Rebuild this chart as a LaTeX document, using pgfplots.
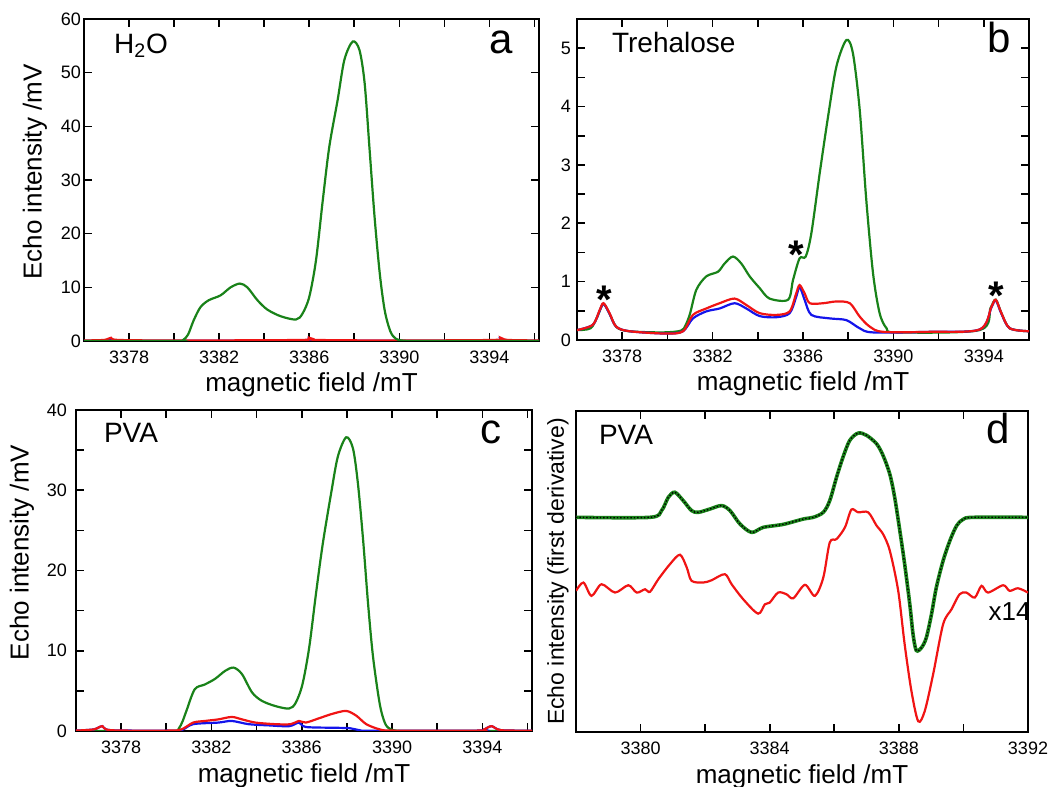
\documentclass[border=0pt]{standalone}
\usepackage{fontspec}
\setmainfont{Liberation Sans}
\usepackage{pgfplots}
\pgfplotsset{compat=1.18}

\definecolor{specgreen}{RGB}{25,130,25}
\definecolor{specred}{RGB}{240,20,20}
\definecolor{specblue}{RGB}{20,20,235}

\pgfplotsset{
  panel/.style={
    scale only axis,
    axis line style={line width=0.8pt},
    tick align=inside,
    major tick length=4pt, minor tick length=4pt,
    major tick style={black, line width=0.8pt},
    minor tick style={black, line width=0.8pt},
    tick label style={font=\fontsize{9}{10}\selectfont},
    /pgf/number format/assume math mode=true,
    /pgf/number format/1000 sep={},
    scaled ticks=false,
    xlabel={magnetic field /mT},
    xlabel style={font=\fontsize{13}{14}\selectfont,
      at={([yshift=-25.5pt]axis description cs:0.5,0)}, anchor=base},
    ylabel style={font=\fontsize{13}{14}\selectfont, anchor=center},
    xticklabel style={yshift=-1.5pt},
  },
  spec/.style={smooth, line width=1.1pt, no markers},
}
\tikzset{
  samplelabel/.style={font=\fontsize{14}{15}\selectfont, anchor=base west},
  panelletter/.style={font=\fontsize{21}{22}\selectfont, anchor=base east},
  asteriskmark/.style={font=\bfseries\fontsize{20}{20}\selectfont, anchor=center, yshift=-4pt},
}

\begin{document}
\begin{tikzpicture}
\useasboundingbox (0,0) rectangle (527.5pt,393.5pt);

% ---- a: H2O
\begin{axis}[panel, at={(42pt,223pt)}, anchor=south west,
  width=227.5pt, height=161pt,
  xmin=3376, xmax=3396.2, ymin=0, ymax=60,
  xtick={3378,3382,...,3394}, minor xtick={3380,3384,...,3396},
  ytick={0,10,...,60},
  yticklabel style={xshift=2pt},
  ylabel={Echo intensity /mV},
  ylabel style={at={([xshift=-24.5pt,yshift=4pt]axis description cs:0,0.5)}},
]
\addplot[spec, specblue] coordinates {(3376,0.05)(3376.9,0.1)(3377.2,0.4)(3377.5,0.1)(3380,0.05)(3385.7,0.1)(3386.0,0.4)(3386.3,0.1)(3390,0.05)(3394.2,0.1)(3394.5,0.4)(3394.8,0.1)(3396.2,0.05)};
\addplot[spec, specred] coordinates {(3376,0.1)(3376.9,0.2)(3377.2,0.6)(3377.5,0.2)(3380,0.1)(3385.7,0.2)(3386.0,0.6)(3386.3,0.2)(3390,0.1)(3394.2,0.2)(3394.5,0.6)(3394.8,0.2)(3396.2,0.1)};
\addplot[spec, specgreen] coordinates {(3376,0)(3380.1,0)(3380.4,0.2)(3380.62,1.2)(3380.87,3.86)(3381.17,6.3)(3381.54,7.6)(3382.06,8.5)(3382.51,10.0)(3382.92,10.7)(3383.25,10.0)(3383.7,7.6)(3384.14,5.85)(3384.74,4.6)(3385.41,4.0)(3385.7,5.1)(3386.0,8.2)(3386.3,15.05)(3386.6,26.2)(3386.89,36.2)(3387.26,44.9)(3387.56,52.4)(3387.93,55.8)(3388.23,54.2)(3388.46,48.0)(3388.68,35.6)(3388.9,23.1)(3389.13,12.6)(3389.35,5.7)(3389.6,1.8)(3389.85,0.4)(3390.2,0.05)(3391,0)(3396.2,0)};
\node[samplelabel] at ([xshift=11.5pt,yshift=-17pt]rel axis cs:0,1) {H\textsubscript{2}O};
\node[panelletter] at ([xshift=-9.5pt,yshift=-17pt]rel axis cs:1,1) {a};
\end{axis}

% ---- b: Trehalose
\begin{axis}[panel, at={(288.5pt,223.5pt)}, anchor=south west,
  width=226pt, height=160.5pt,
  xmin=3376, xmax=3396, ymin=0, ymax=5.5,
  xtick={3378,3382,...,3394}, minor xtick={3380,3384,...,3396},
  ytick={0,1,...,5}, minor ytick={0.5,1.5,...,4.5},
  yticklabel style={xshift=0.5pt},
]
\addplot[spec, specgreen] coordinates {(3376.0,0.17)(3376.6,0.2)(3376.9,0.4)(3377.17,0.62)(3377.45,0.44)(3377.75,0.22)(3378.3,0.15)(3379.8,0.13)(3380.6,0.16)(3380.8,0.25)(3381.0,0.45)(3381.28,0.86)(3381.72,1.09)(3382.24,1.17)(3382.53,1.31)(3382.9,1.43)(3383.27,1.31)(3383.64,1.09)(3384.08,0.89)(3384.52,0.71)(3385.34,0.69)(3385.56,1.03)(3385.85,1.4)(3386.12,1.43)(3386.37,1.83)(3386.74,2.86)(3387.11,3.83)(3387.48,4.69)(3387.92,5.14)(3388.21,4.91)(3388.51,3.94)(3388.8,2.4)(3389.1,1.14)(3389.39,0.46)(3389.7,0.2)(3390.13,0.13)(3393.82,0.17)(3394.3,0.55)(3394.53,0.69)(3394.78,0.46)(3395.15,0.2)(3396,0.15)};
\addplot[spec, specblue] coordinates {(3376.0,0.17)(3376.7,0.26)(3377.0,0.5)(3377.17,0.62)(3377.44,0.45)(3377.73,0.23)(3378.32,0.15)(3379.95,0.11)(3380.69,0.15)(3381.13,0.37)(3381.72,0.49)(3382.31,0.54)(3382.97,0.63)(3383.49,0.54)(3384.08,0.41)(3384.82,0.39)(3385.41,0.46)(3385.7,0.74)(3385.85,0.91)(3386.07,0.69)(3386.37,0.43)(3387.18,0.37)(3387.92,0.34)(3388.51,0.2)(3389.1,0.13)(3391.61,0.14)(3393.82,0.18)(3394.34,0.56)(3394.53,0.68)(3394.78,0.45)(3395.15,0.2)(3396.0,0.15)};
\addplot[spec, specred] coordinates {(3376.0,0.17)(3376.7,0.26)(3377.0,0.51)(3377.17,0.63)(3377.44,0.46)(3377.73,0.23)(3378.32,0.15)(3379.95,0.11)(3380.69,0.15)(3381.13,0.43)(3381.72,0.54)(3382.31,0.63)(3382.97,0.71)(3383.49,0.6)(3384.08,0.46)(3384.82,0.43)(3385.41,0.49)(3385.7,0.8)(3385.85,0.94)(3386.07,0.8)(3386.3,0.63)(3386.89,0.63)(3387.48,0.66)(3388.07,0.63)(3388.51,0.4)(3388.95,0.23)(3389.54,0.14)(3391.61,0.14)(3393.82,0.18)(3394.34,0.57)(3394.53,0.69)(3394.78,0.46)(3395.15,0.2)(3396.0,0.15)};
\node[asteriskmark] at (axis cs:3377.22,0.83) {*};
\node[asteriskmark] at (axis cs:3385.7,1.6) {*};
\node[asteriskmark] at (axis cs:3394.56,0.89) {*};
\node[samplelabel] at ([xshift=14pt,yshift=-16.5pt]rel axis cs:0,1) {Trehalose};
\node[panelletter] at ([xshift=-5.5pt,yshift=-17pt]rel axis cs:1,1) {b};
\end{axis}

% ---- c: PVA
\begin{axis}[panel, at={(38pt,28pt)}, anchor=south west,
  width=228pt, height=160.5pt,
  xmin=3376, xmax=3396.2, ymin=0, ymax=40,
  xtick={3378,3382,...,3394}, minor xtick={3380,3384,...,3396},
  ytick={0,10,...,40}, minor ytick={5,15,...,35},
  yticklabel style={xshift=-1pt},
  ylabel={Echo intensity /mV},
  ylabel style={at={([xshift=-27pt,yshift=9pt]axis description cs:0,0.5)}},
]
\addplot[spec, specgreen] coordinates {(3376,0)(3380.3,0)(3380.55,0.3)(3380.72,1.2)(3380.89,2.5)(3381.26,5.2)(3381.71,5.8)(3382.16,6.5)(3382.61,7.5)(3382.98,7.9)(3383.35,7.1)(3383.8,4.8)(3384.24,3.75)(3384.84,3.1)(3385.44,2.8)(3385.73,3.5)(3386.03,5.8)(3386.33,10.4)(3386.63,17.1)(3386.93,23.3)(3387.3,29.6)(3387.6,34.2)(3387.97,36.6)(3388.27,35.2)(3388.49,30.8)(3388.72,23.75)(3388.94,15.8)(3389.16,9.2)(3389.46,3.3)(3389.7,0.9)(3389.95,0.2)(3390.3,0.02)(3391,0)(3396.2,0)};
\addplot[spec, specblue] coordinates {(3376,0.05)(3376.79,0.2)(3377.17,0.6)(3377.54,0.1)(3380.07,0.05)(3380.67,0.1)(3381.19,0.85)(3382.31,1.05)(3382.9,1.25)(3383.65,0.85)(3384.54,0.7)(3385.44,0.6)(3385.88,1.05)(3386.18,0.5)(3387.52,0.4)(3388.12,0.35)(3388.57,0.1)(3389.1,0.02)(3393.78,0.05)(3394.08,0.2)(3394.41,0.6)(3394.83,0.1)(3396.2,0.05)};
\addplot[spec, specred] coordinates {(3376,0.05)(3376.79,0.2)(3377.17,0.6)(3377.54,0.1)(3380.07,0.05)(3380.67,0.2)(3381.19,1.05)(3381.71,1.25)(3382.31,1.45)(3382.9,1.75)(3383.35,1.45)(3383.95,1.05)(3384.84,0.85)(3385.51,0.85)(3385.88,1.25)(3386.18,1.05)(3386.78,1.6)(3387.37,2.15)(3387.97,2.5)(3388.42,1.9)(3388.86,0.85)(3389.46,0.2)(3390.06,0.05)(3393.78,0.05)(3394.08,0.2)(3394.41,0.6)(3394.83,0.1)(3396.2,0.05)};
\node[samplelabel] at ([xshift=10.5pt,yshift=-16pt]rel axis cs:0,1) {PVA};
\node[panelletter] at ([xshift=-11.5pt,yshift=-16.5pt]rel axis cs:1,1) {c};
\end{axis}

% ---- d: PVA first derivative
\begin{axis}[panel, at={(288pt,27.5pt)}, anchor=south west,
  width=226pt, height=160.5pt,
  xmin=3378, xmax=3392, ymin=0, ymax=320,
  xtick={3380,3384,3388,3392}, minor xtick={3382,3386,3390},
  ytick=\empty,
  ylabel={Echo intensity (first derivative)},
  ylabel style={font=\fontsize{11.5}{12}\selectfont,
    at={([xshift=-9pt]axis description cs:0,0.5)}},
]
\addplot[spec, specgreen, line width=1.8pt] coordinates {(3378,214)(3380.29,214)(3380.65,220.7)(3380.86,234)(3381.06,239)(3381.32,230.7)(3381.58,220.7)(3381.79,219)(3382.15,222.3)(3382.51,225.7)(3382.77,220.7)(3383.08,207.3)(3383.44,199)(3383.8,204)(3384.42,207)(3385.04,212.3)(3385.35,214)(3385.66,219)(3385.86,230.7)(3386.07,254)(3386.27,274)(3386.48,290.7)(3386.74,298)(3387.0,295.7)(3387.31,287.3)(3387.51,275.7)(3387.72,257)(3387.87,234)(3388.03,200.7)(3388.18,167.3)(3388.34,127)(3388.44,97.3)(3388.54,81.3)(3388.7,84)(3388.85,94)(3389.01,117.3)(3389.16,144)(3389.37,170.7)(3389.58,190.7)(3389.79,205.7)(3389.99,212)(3390.3,214)(3392,214)};
\addplot[smooth, black, densely dotted, line width=0.7pt] coordinates {(3378,214)(3380.29,214)(3380.65,220.7)(3380.86,234)(3381.06,239)(3381.32,230.7)(3381.58,220.7)(3381.79,219)(3382.15,222.3)(3382.51,225.7)(3382.77,220.7)(3383.08,207.3)(3383.44,199)(3383.8,204)(3384.42,207)(3385.04,212.3)(3385.35,214)(3385.66,219)(3385.86,230.7)(3386.07,254)(3386.27,274)(3386.48,290.7)(3386.74,298)(3387.0,295.7)(3387.31,287.3)(3387.51,275.7)(3387.72,257)(3387.87,234)(3388.03,200.7)(3388.18,167.3)(3388.34,127)(3388.44,97.3)(3388.54,81.3)(3388.7,84)(3388.85,94)(3389.01,117.3)(3389.16,144)(3389.37,170.7)(3389.58,190.7)(3389.79,205.7)(3389.99,212)(3390.3,214)(3392,214)};
\addplot[spec, specred] coordinates {(3378.0,140.7)(3378.23,149.0)(3378.48,135.7)(3378.79,147.3)(3379.21,139.0)(3379.62,146.3)(3379.88,139.0)(3380.14,142.3)(3380.29,139.7)(3380.55,152.3)(3380.91,167.3)(3381.22,176.7)(3381.43,164.0)(3381.58,150.7)(3381.94,149.0)(3382.2,151.3)(3382.61,157.3)(3382.82,147.3)(3383.18,132.3)(3383.64,118.0)(3383.85,127.3)(3384.0,129.0)(3384.26,139.0)(3384.52,137.3)(3384.73,133.3)(3385.09,146.7)(3385.4,135.7)(3385.66,154.0)(3385.86,189.0)(3386.07,192.3)(3386.33,204.0)(3386.53,221.7)(3386.74,219.0)(3387.05,219.0)(3387.31,205.7)(3387.51,197.3)(3387.72,180.7)(3387.98,140.7)(3388.18,87.3)(3388.39,40.7)(3388.6,10.7)(3388.8,20.7)(3389.06,57.3)(3389.37,107.3)(3389.63,122.3)(3389.88,137.3)(3390.09,139.0)(3390.35,134.0)(3390.56,145.7)(3390.76,139.0)(3391.23,146.3)(3391.43,140.7)(3391.69,143.3)(3392.0,139.0)};
\node[font=\fontsize{13}{14}\selectfont, anchor=base west] at (axis cs:3390.56,110.7) {x14};
\node[samplelabel] at ([xshift=8pt,yshift=-16.5pt]rel axis cs:0,1) {PVA};
\node[panelletter] at ([xshift=-5.5pt,yshift=-16pt]rel axis cs:1,1) {d};
\end{axis}
\end{tikzpicture}
\end{document}
